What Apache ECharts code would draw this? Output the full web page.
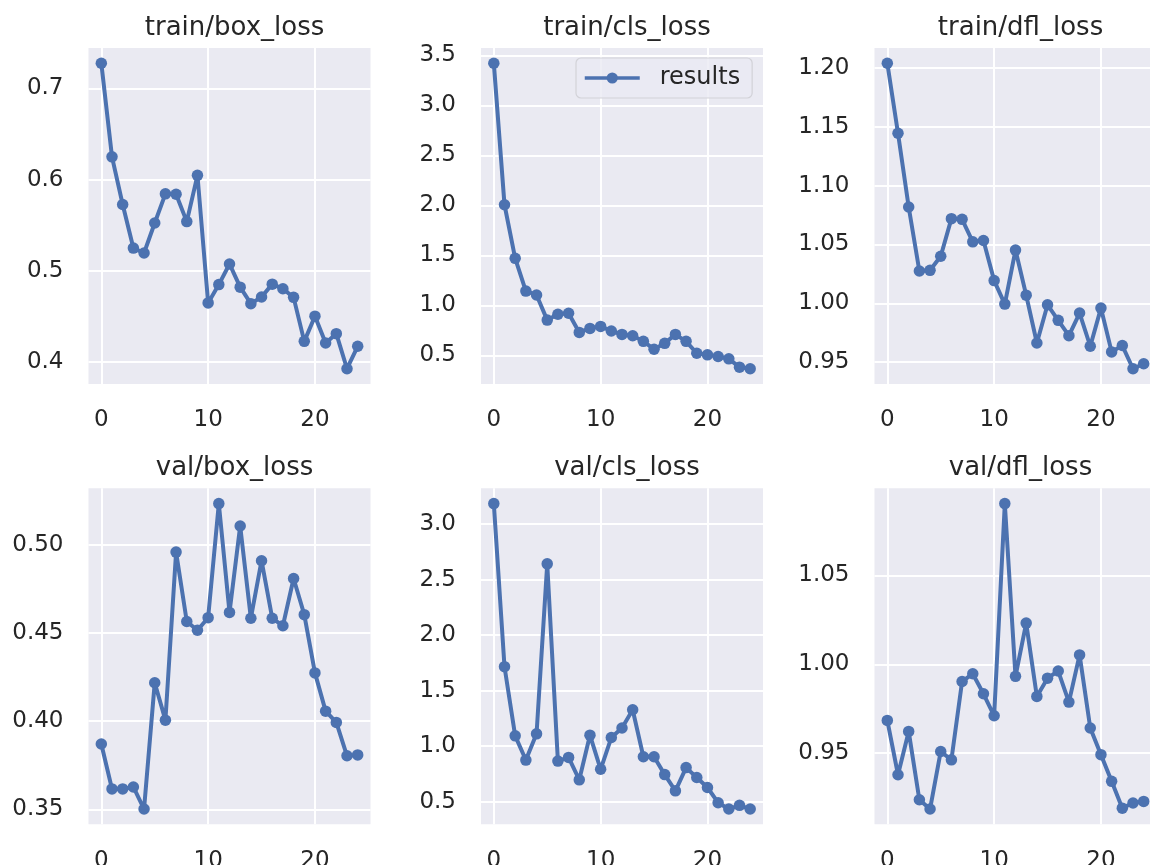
<!DOCTYPE html>
<html>
<head>
<meta charset="utf-8">
<script src="https://cdn.jsdelivr.net/npm/echarts@6/dist/echarts.min.js"></script>
<style>
  html, body { margin: 0; padding: 0; background: #ffffff; overflow: hidden; }
  #chart { width: 1150px; height: 865px; }
</style>
</head>
<body>
<div id="chart"></div>
<script>
// Epoch index shared by every panel
const epochs = [0, 1, 2, 3, 4, 5, 6, 7, 8, 9, 10, 11, 12, 13, 14, 15, 16, 17, 18, 19, 20, 21, 22, 23, 24];

// Per-epoch losses
const trainBoxLoss = [0.7275, 0.625, 0.5728, 0.525, 0.5196, 0.5525, 0.5844, 0.584, 0.554, 0.6047, 0.4649, 0.485, 0.5076, 0.4822, 0.4641, 0.4714, 0.4855, 0.4804, 0.471, 0.4228, 0.4504, 0.421, 0.4312, 0.3928, 0.4174];
const trainClsLoss = [3.421, 2.007, 1.471, 1.144, 1.105, 0.854, 0.913, 0.923, 0.731, 0.771, 0.791, 0.745, 0.711, 0.698, 0.642, 0.563, 0.622, 0.711, 0.642, 0.523, 0.507, 0.490, 0.467, 0.384, 0.368];
const trainDflLoss = [1.2039, 1.1445, 1.0818, 1.0274, 1.028, 1.04, 1.0719, 1.0713, 1.0522, 1.0533, 1.0193, 0.9993, 1.0452, 1.0069, 0.9663, 0.9987, 0.9855, 0.9725, 0.9917, 0.9635, 0.9959, 0.9587, 0.9641, 0.9444, 0.9486];
const valBoxLoss = [0.3871, 0.3616, 0.3616, 0.3627, 0.3502, 0.4218, 0.4006, 0.4959, 0.4565, 0.4516, 0.4587, 0.5234, 0.4617, 0.5107, 0.4584, 0.491, 0.4584, 0.4541, 0.4809, 0.4604, 0.4274, 0.4057, 0.3993, 0.3804, 0.3809];
const valClsLoss = [3.185, 1.716, 1.093, 0.875, 1.111, 2.642, 0.866, 0.899, 0.697, 1.099, 0.792, 1.078, 1.164, 1.328, 0.905, 0.905, 0.744, 0.598, 0.807, 0.718, 0.628, 0.491, 0.434, 0.467, 0.434];
const valDflLoss = [0.9684, 0.9378, 0.9622, 0.9237, 0.9185, 0.9509, 0.9462, 0.9903, 0.9947, 0.9834, 0.971, 1.0905, 0.9932, 1.0232, 0.9819, 0.9922, 0.9962, 0.9787, 1.0053, 0.9641, 0.9491, 0.9341, 0.919, 0.9219, 0.9228];

// Panel titles, y tick steps and label decimals
const panelTitles = ['train/box_loss', 'train/cls_loss', 'train/dfl_loss', 'val/box_loss', 'val/cls_loss', 'val/dfl_loss'];
const panelValues = [trainBoxLoss, trainClsLoss, trainDflLoss, valBoxLoss, valClsLoss, valDflLoss];
const yTickSteps = [0.1, 0.5, 0.05, 0.05, 0.5, 0.05];
const yTickDecimals = [1, 1, 2, 2, 1, 2];
const xTickStep = 10;
const seriesName = 'results';

// Layout of the 2 x 3 panel grid (pixels); the right column runs past the canvas edge
const colLeft = [88.5, 481, 874.5];
const rowTop = [48, 488.3];
const plotW = 282;
const plotH = 336;

const FONT = 'DejaVu Sans';
const INK = '#262626';
const LINE = '#4C72B0';
const FACE = '#EAEAF2';

// 5% padding around the data, like a default autoscaled axis
function padded(arr) {
  const lo = Math.min.apply(null, arr), hi = Math.max.apply(null, arr);
  const m = (hi - lo) * 0.05;
  return [lo - m, hi + m];
}
const xExtent = padded(epochs);

const grids = [], xAxes = [], yAxes = [], series = [], titles = [];
panelValues.forEach((vals, i) => {
  const r = Math.floor(i / 3), c = i % 3;
  const left = colLeft[c], top = rowTop[r];
  grids.push({
    left: left, top: top, width: plotW, height: plotH,
    show: true, backgroundColor: FACE, borderWidth: 0,
    containLabel: false, outerBoundsMode: 'none'
  });
  titles.push({
    text: panelTitles[i],
    left: left + plotW / 2, top: top - 38,
    textAlign: 'center',
    textStyle: { fontFamily: FONT, fontSize: 26, fontWeight: 'normal', color: INK }
  });
  xAxes.push({
    type: 'value', gridIndex: i,
    min: xExtent[0], max: xExtent[1],
    splitNumber: 2, minInterval: xTickStep, maxInterval: xTickStep,
    axisLine: { show: false }, axisTick: { show: false },
    axisLabel: {
      showMinLabel: false, showMaxLabel: false,
      fontFamily: FONT, fontSize: 23, color: INK, margin: 25,
      formatter: v => String(Math.round(v))
    },
    splitLine: { show: true, showMinLine: false, showMaxLine: false, lineStyle: { color: '#ffffff', width: 2 } }
  });
  const ext = padded(vals);
  const step = yTickSteps[i], dec = yTickDecimals[i];
  yAxes.push({
    type: 'value', gridIndex: i,
    min: ext[0], max: ext[1],
    splitNumber: 8, minInterval: step, maxInterval: step,
    axisLine: { show: false }, axisTick: { show: false },
    axisLabel: {
      showMinLabel: false, showMaxLabel: false,
      fontFamily: FONT, fontSize: 23, color: INK, margin: 25,
      formatter: v => v.toFixed(dec)
    },
    splitLine: { show: true, showMinLine: false, showMaxLine: false, lineStyle: { color: '#ffffff', width: 2 } }
  });
  series.push({
    name: seriesName, type: 'line',
    xAxisIndex: i, yAxisIndex: i,
    data: epochs.map((e, k) => [e, vals[k]]),
    symbol: 'circle', symbolSize: 11.5, showSymbol: true,
    itemStyle: { color: LINE },
    lineStyle: { color: LINE, width: 4 },
    clip: false
  });
});

const chart = echarts.init(document.getElementById('chart'), null, { renderer: 'canvas' });
chart.setOption({
  animation: false,
  backgroundColor: '#ffffff',
  title: titles,
  legend: {
    data: [seriesName],
    left: 576, top: 58,
    padding: [8, 12, 8, 7],
    itemWidth: 55, itemHeight: 14,
    lineStyle: { width: 3.5 },
    backgroundColor: 'rgba(234,234,242,0.8)',
    borderColor: '#d2d2d8', borderWidth: 1.2, borderRadius: 5,
    textStyle: { fontFamily: FONT, fontSize: 24, color: INK, padding: [0, 0, 0, 15] }
  },
  grid: grids,
  xAxis: xAxes,
  yAxis: yAxes,
  series: series
});
</script>
</body>
</html>
